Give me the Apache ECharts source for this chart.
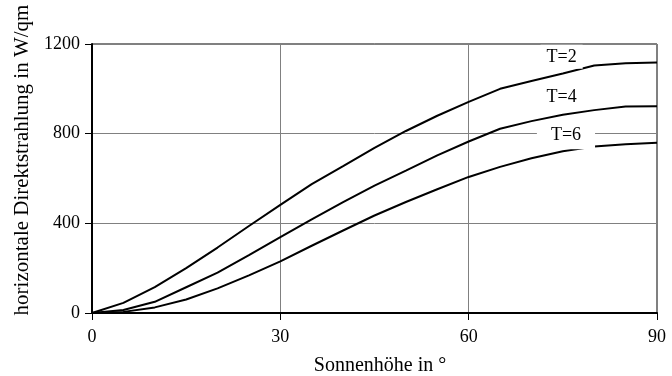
<!DOCTYPE html>
<html>
<head>
<meta charset="utf-8">
<script src="https://cdn.jsdelivr.net/npm/echarts@6/dist/echarts.min.js"></script>
<style>
  html, body { margin: 0; padding: 0; background: #fff; }
  #chart { width: 672px; height: 376px; }
</style>
</head>
<body>
<div id="chart"></div>
<script>
// Sonnenhöhe (Grad) und horizontale Direktstrahlung für drei Trübungsfaktoren
const sonnenhoehe = [0, 5, 10, 15, 20, 25, 30, 35, 40, 45, 50, 55, 60, 65, 70, 75, 80, 85, 90];
const strahlungT2 = [0, 45, 115, 200, 292, 388, 482, 575, 655, 737, 812, 880, 942, 1000, 1035, 1068, 1104, 1114, 1118];
const strahlungT4 = [0, 13, 50, 115, 180, 258, 338, 418, 495, 568, 635, 703, 765, 822, 856, 884, 905, 921, 922];
const strahlungT6 = [0, 5, 25, 60, 110, 168, 230, 300, 368, 435, 495, 552, 607, 652, 690, 722, 743, 753, 759];
const kurvenNamen = ['T=2', 'T=4', 'T=6'];
const xTicks = [0, 30, 60, 90];
const yTicks = [0, 400, 800, 1200];

const serif = 'Liberation Serif';
const chart = echarts.init(document.getElementById('chart'));

function pairs(ys) {
  return sonnenhoehe.map((x, i) => [x, ys[i]]);
}

// Beschriftung an der Kurve mit weißem Hintergrund
function kurvenLabel(name, coord, padding) {
  return {
    symbol: 'circle',
    symbolSize: 0,
    silent: true,
    z: 5,
    itemStyle: { color: 'rgba(0,0,0,0)' },
    label: {
      show: true,
      position: 'inside',
      formatter: name,
      color: '#000',
      fontFamily: serif,
      fontSize: 18,
      backgroundColor: '#fff',
      padding: padding
    },
    data: [{ coord: coord }]
  };
}

const reihen = [strahlungT2, strahlungT4, strahlungT6];
const labelPos = [[74.8, 1143], [74.8, 963], [75.5, 793]];
const labelPad = [[3, 6, 3, 6], [3, 6, 3, 6], [5, 14, 5, 14]];

chart.setOption({
  backgroundColor: '#fff',
  animation: false,
  grid: {
    left: 92, right: 15, top: 44, bottom: 63,
    show: true, borderColor: '#000', borderWidth: 1, backgroundColor: 'transparent'
  },
  xAxis: {
    type: 'value', min: xTicks[0], max: xTicks[xTicks.length - 1], interval: 30,
    axisLine: { show: true, lineStyle: { color: '#000', width: 2 } },
    axisTick: { show: true, length: 7, lineStyle: { color: '#000', width: 1 } },
    axisLabel: { color: '#000', fontFamily: serif, fontSize: 18, margin: 15, formatter: v => String(v) },
    splitLine: { show: true, lineStyle: { color: '#808080', width: 1 } }
  },
  yAxis: {
    type: 'value', min: yTicks[0], max: yTicks[yTicks.length - 1], interval: 400,
    axisLine: { show: true, lineStyle: { color: '#000', width: 2 } },
    axisTick: { show: true, length: 7, lineStyle: { color: '#000', width: 1 } },
    axisLabel: { color: '#000', fontFamily: serif, fontSize: 18, margin: 12, formatter: v => String(v) },
    splitLine: { show: true, lineStyle: { color: '#808080', width: 1 } }
  },
  series: reihen.map((ys, i) => ({
    name: kurvenNamen[i],
    type: 'line',
    data: pairs(ys),
    symbol: 'none',
    lineStyle: { color: '#000', width: 2 },
    z: 3,
    markPoint: kurvenLabel(kurvenNamen[i], labelPos[i], labelPad[i])
  })),
  graphic: [
    {
      type: 'text', x: 380, y: 366,
      style: { text: 'Sonnenhöhe in °', fontFamily: serif, fontSize: 20, fill: '#000',
               textAlign: 'center', textVerticalAlign: 'middle' }
    },
    {
      type: 'text', x: 22, y: 160, rotation: Math.PI / 2,
      style: { text: 'horizontale Direktstrahlung in W/qm', fontFamily: serif, fontSize: 21, fill: '#000',
               textAlign: 'center', textVerticalAlign: 'middle' }
    }
  ]
});
</script>
</body>
</html>
